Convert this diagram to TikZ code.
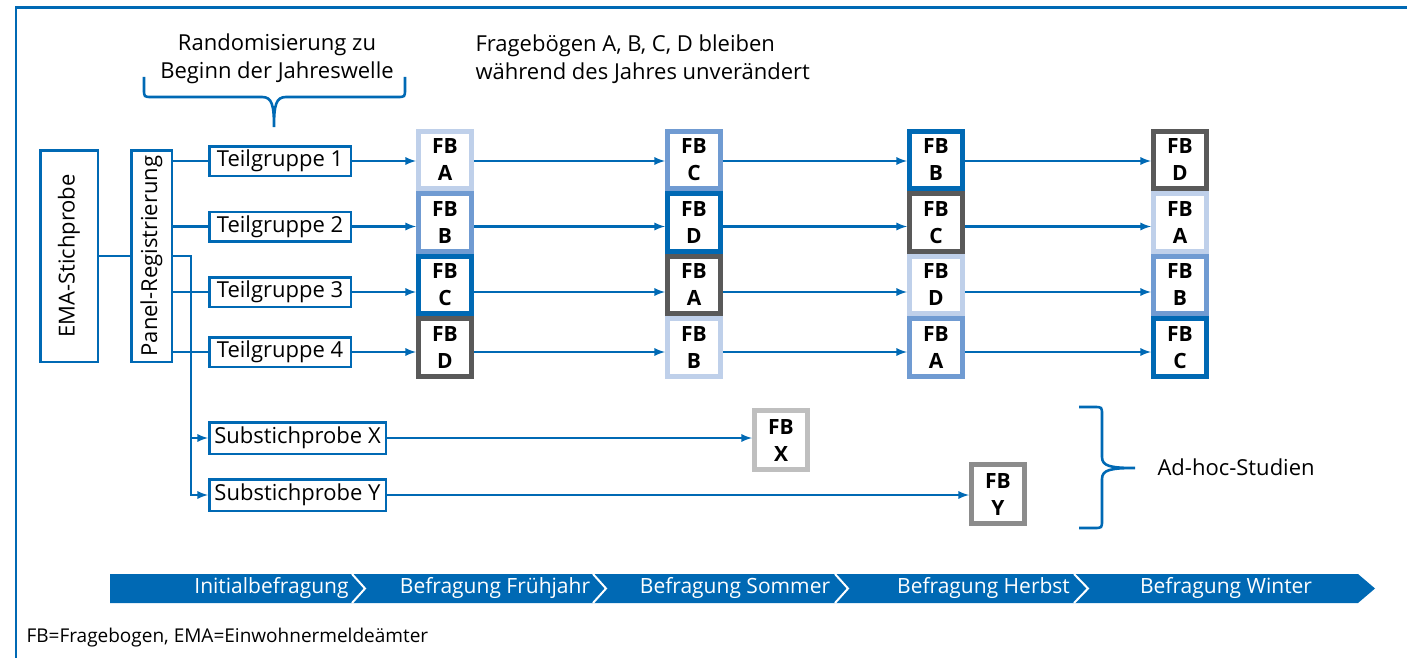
\documentclass[tikz,border=0pt]{standalone}
\usepackage{fontspec}
\setmainfont{Open Sans}
\usetikzlibrary{arrows}
\definecolor{diwblau}{RGB}{0,105,180}
\definecolor{fbhell}{RGB}{191,208,234}
\definecolor{fbmittel}{RGB}{112,155,210}
\definecolor{fbdunkel}{RGB}{0,105,180}
\definecolor{fbgrau}{RGB}{89,89,89}
\definecolor{fbx}{RGB}{191,191,191}
\definecolor{fby}{RGB}{140,140,140}
\begin{document}
\begin{tikzpicture}[x=1pt,y=-1pt,font=\fontsize{22}{28}\selectfont,
  kasten/.style={draw=diwblau,line width=2.5pt,inner sep=0pt},
  fb/.style={draw=#1,line width=5pt,fill=white,minimum width=53pt,minimum height=57.5pt,inner sep=0pt,align=center,font=\bfseries\fontsize{21}{27}\selectfont},
  linie/.style={diwblau,line width=2.6pt},
  pfeil/.style={linie,-latex}]
  \useasboundingbox (0,0) rectangle (1407,658);
  % Rahmen
  \draw[linie] (16,658) -- (16,7.5) -- (1407,7.5);
  \node[align=center] (rand) at (277,59) {Randomisierung zu\\Beginn der Jahreswelle};
  \node[align=left,anchor=west] (konst) at (472,59) {Fragebögen A, B, C, D bleiben\\während des Jahres unverändert};
  \draw[linie] (144,77) -- (144,89) .. controls (144,97) .. (152,97) -- (262,97) .. controls (272,97) and (274,105) .. (274,127) .. controls (274,105) and (276,97) .. (286,97) -- (397,97) .. controls (405,97) .. (405,89) -- (405,77);

  \node[kasten,rotate=90,minimum width=211.5pt,minimum height=57.5pt] (ema) at (69,256) {EMA-Stichprobe};
  \node[kasten,rotate=90,minimum width=211.5pt,minimum height=40.5pt] (panel) at (151.5,256) {Panel-Registrierung};
  \node[kasten,minimum width=141.5pt,minimum height=29.5pt] (tg1) at (280,161) {Teilgruppe 1};
  \node[kasten,minimum width=141.5pt,minimum height=29.5pt] (tg2) at (280,226.5) {Teilgruppe 2};
  \node[kasten,minimum width=141.5pt,minimum height=29.5pt] (tg3) at (280,292) {Teilgruppe 3};
  \node[kasten,minimum width=141.5pt,minimum height=29.5pt] (tg4) at (280,352) {Teilgruppe 4};
  \node[kasten,minimum width=176.5pt,minimum height=31.5pt] (subx) at (297.5,438) {Substichprobe X};
  \node[kasten,minimum width=176.5pt,minimum height=31.5pt] (suby) at (297.5,495) {Substichprobe Y};

  \node[fb=fbhell] (fb11) at (445,160) {FB\\A};
  \node[fb=fbmittel] (fb12) at (445,222.5) {FB\\B};
  \node[fb=fbdunkel] (fb13) at (445,285) {FB\\C};
  \node[fb=fbgrau] (fb14) at (445,347.5) {FB\\D};
  \node[fb=fbmittel] (fb21) at (694,160) {FB\\C};
  \node[fb=fbdunkel] (fb22) at (694,222.5) {FB\\D};
  \node[fb=fbgrau] (fb23) at (694,285) {FB\\A};
  \node[fb=fbhell] (fb24) at (694,347.5) {FB\\B};
  \node[fb=fbdunkel] (fb31) at (936,160) {FB\\B};
  \node[fb=fbgrau] (fb32) at (936,222.5) {FB\\C};
  \node[fb=fbhell] (fb33) at (936,285) {FB\\D};
  \node[fb=fbmittel] (fb34) at (936,347.5) {FB\\A};
  \node[fb=fbgrau] (fb41) at (1180,160) {FB\\D};
  \node[fb=fbhell] (fb42) at (1180,222.5) {FB\\A};
  \node[fb=fbmittel] (fb43) at (1180,285) {FB\\B};
  \node[fb=fbdunkel] (fb44) at (1180,347.5) {FB\\C};
  \node[fb=fbx,minimum height=59pt] (fbx) at (781,440) {FB\\X};
  \node[fb=fby,minimum height=59pt] (fby) at (998,494) {FB\\Y};

  \draw[linie] (ema.south) -- (panel.north);
  \draw[linie] (panel.south |- tg1) -- (tg1.west);
  \draw[linie] (panel.south |- tg2) -- (tg2.west);
  \draw[linie] (panel.south |- tg3) -- (tg3.west);
  \draw[linie] (panel.south |- tg4) -- (tg4.west);
  \coordinate (knick) at (191,256);
  \draw[pfeil] (panel.south) -- (knick) -- (knick |- suby) -- (suby.west);
  \draw[pfeil] (knick |- subx) -- (subx.west);

  \draw[pfeil] (tg1.east) -- (fb11.west |- tg1);
  \draw[pfeil] (tg2.east) -- (fb12.west |- tg2);
  \draw[pfeil] (tg3.east) -- (fb13.west |- tg3);
  \draw[pfeil] (tg4.east) -- (fb14.west |- tg4);
  \draw[pfeil] (fb11.east |- tg1) -- (fb21.west |- tg1);
  \draw[pfeil] (fb12.east |- tg2) -- (fb22.west |- tg2);
  \draw[pfeil] (fb13.east |- tg3) -- (fb23.west |- tg3);
  \draw[pfeil] (fb14.east |- tg4) -- (fb24.west |- tg4);
  \draw[pfeil] (fb21.east |- tg1) -- (fb31.west |- tg1);
  \draw[pfeil] (fb22.east |- tg2) -- (fb32.west |- tg2);
  \draw[pfeil] (fb23.east |- tg3) -- (fb33.west |- tg3);
  \draw[pfeil] (fb24.east |- tg4) -- (fb34.west |- tg4);
  \draw[pfeil] (fb31.east |- tg1) -- (fb41.west |- tg1);
  \draw[pfeil] (fb32.east |- tg2) -- (fb42.west |- tg2);
  \draw[pfeil] (fb33.east |- tg3) -- (fb43.west |- tg3);
  \draw[pfeil] (fb34.east |- tg4) -- (fb44.west |- tg4);
  \draw[pfeil] (subx.east) -- (fbx.west |- subx);
  \draw[pfeil] (suby.east) -- (fby.west |- suby);

  \draw[linie] (1079,407) -- (1094,407) .. controls (1102,407) .. (1102,415) -- (1102,457) .. controls (1102,466) and (1110,468) .. (1135,468) .. controls (1110,468) and (1102,470) .. (1102,479) -- (1102,520) .. controls (1102,528) .. (1094,528) -- (1079,528);
  \node[anchor=west] (adhoc) at (1154,467) {Ad-hoc-Studien};

  % Zeitleiste
  \fill[diwblau] (110,574) -- (1358,574) -- (1375,588.5) -- (1358,603) -- (110,603) -- cycle;
  \draw[white,line width=2pt] (352,574) -- (365,588.5) -- (352,603);
  \draw[white,line width=2pt] (593,574) -- (606,588.5) -- (593,603);
  \draw[white,line width=2pt] (835,574) -- (848,588.5) -- (835,603);
  \draw[white,line width=2pt] (1074,574) -- (1088,588.5) -- (1074,603);
  \node[white,font=\fontsize{21}{26}\selectfont] (initial) at (271.5,588) {Initialbefragung};
  \node[white,font=\fontsize{21}{26}\selectfont] (fruehjahr) at (495,588) {Befragung Frühjahr};
  \node[white,font=\fontsize{21}{26}\selectfont] (sommer) at (735,588) {Befragung Sommer};
  \node[white,font=\fontsize{21}{26}\selectfont] (herbst) at (983.5,588) {Befragung Herbst};
  \node[white,font=\fontsize{21}{26}\selectfont] (winter) at (1226,588) {Befragung Winter};

  \node[anchor=west,font=\fontsize{19}{22}\selectfont] (fussnote) at (23,638) {FB=Fragebogen, EMA=Einwohnermeldeämter};
\end{tikzpicture}
\end{document}
